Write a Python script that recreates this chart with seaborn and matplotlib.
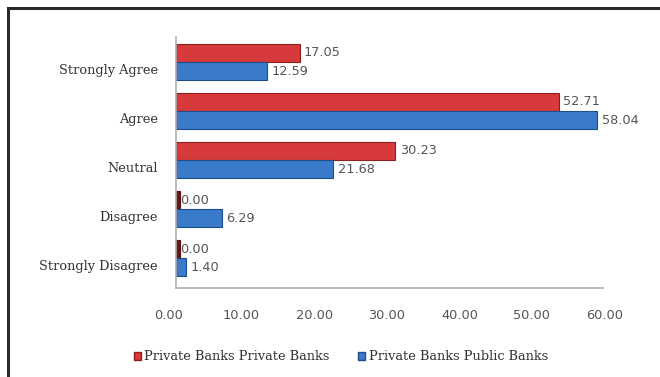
import matplotlib
matplotlib.use("Agg")
import matplotlib.pyplot as plt
import matplotlib.patches as mpatches
import matplotlib.transforms as mtransforms
import pandas as pd
import seaborn as sns

categories = ["Strongly Agree", "Agree", "Neutral", "Disagree", "Strongly Disagree"]
private_private = [17.05, 52.71, 30.23, 0.00, 0.00]
private_public = [12.59, 58.04, 21.68, 6.29, 1.40]
series_names = ["Private Banks Private Banks", "Private Banks Public Banks"]
x_ticks = [0, 10, 20, 30, 40, 50, 60]

df = pd.DataFrame({
    "category": categories * 2,
    "value": private_private + private_public,
    "series": [series_names[0]] * len(categories) + [series_names[1]] * len(categories),
})

sns.set_theme(style="white")
plt.rcParams["font.family"] = ["DejaVu Serif"]
num_font = ["DejaVu Sans"]

colors = {series_names[0]: "#d63a3a", series_names[1]: "#3a7acb"}
edges = {series_names[0]: "#8e1f1f", series_names[1]: "#1f4e8c"}

W, H = 660, 377
fig = plt.figure(figsize=(6.6, 3.77), dpi=100)
ax = fig.add_axes([176 / W, 1 - 288 / H, (611.6 - 176) / W, (288 - 37) / H])

sns.barplot(data=df, y="category", x="value", hue="series", order=categories,
            hue_order=series_names, palette=colors, orient="h", width=0.74,
            dodge=True, ax=ax, legend=False, saturation=1)

for container, name in zip(ax.containers, series_names):
    for bar in container:
        bar.set_edgecolor(edges[name])
        bar.set_linewidth(0.8)
    ax.bar_label(container, fmt="%.2f", padding=3, fontsize=9.3,
                 color="#555555", family=num_font)

# small stubs for the zero-valued bars
for bar in ax.containers[0]:
    if bar.get_width() == 0:
        bar.set_width(0.6)
        bar.set_edgecolor("#5a1010")
        bar.set_facecolor("#6e1515")

ax.set_xlim(0, 60)
ax.set_ylim(4.61, -0.51)
ax.set_xticks(x_ticks)
ax.set_xticklabels([f"{t:.2f}" for t in x_ticks], fontsize=9.3, color="#555555",
                   family=num_font)
ax.tick_params(axis="x", pad=15, length=0)
ax.tick_params(axis="y", length=0, pad=13, labelsize=9.3, labelcolor="#333333")
ax.set_xlabel("")
ax.set_ylabel("")

# the floor labels sit slightly left, the category labels slightly low
x_shift = mtransforms.ScaledTranslation(-7 / 100, 0, fig.dpi_scale_trans)
for lbl in ax.get_xticklabels():
    lbl.set_transform(lbl.get_transform() + x_shift)
y_shift = mtransforms.ScaledTranslation(0, -7 / 100, fig.dpi_scale_trans)
for lbl in ax.get_yticklabels():
    lbl.set_transform(lbl.get_transform() + y_shift)

for side in ["top", "right"]:
    ax.spines[side].set_visible(False)
ax.spines["left"].set_color("#b0b0b0")
ax.spines["bottom"].set_color("#b0b0b0")
ax.spines["left"].set_linewidth(1.2)
ax.spines["bottom"].set_linewidth(1.2)
ax.spines["bottom"].set_bounds(0, 58.8)

handles = [mpatches.Patch(facecolor=colors[n], edgecolor=edges[n], label=n) for n in series_names]
fig.legend(handles=handles, loc="center", bbox_to_anchor=(341 / W, 1 - 357 / H), ncol=2,
           frameon=False, fontsize=9.3, handlelength=0.55, handleheight=0.55,
           handletextpad=0.25, columnspacing=2.2, labelcolor="#333333")

# outer chart frame
fig.patches.append(mpatches.Rectangle((8 / W, -0.2), 1.2, 1 - 8 / H + 0.2,
                                      transform=fig.transFigure, fill=False,
                                      edgecolor="#2a2a2a", linewidth=2.2))

fig.savefig("out.png", dpi=100)
